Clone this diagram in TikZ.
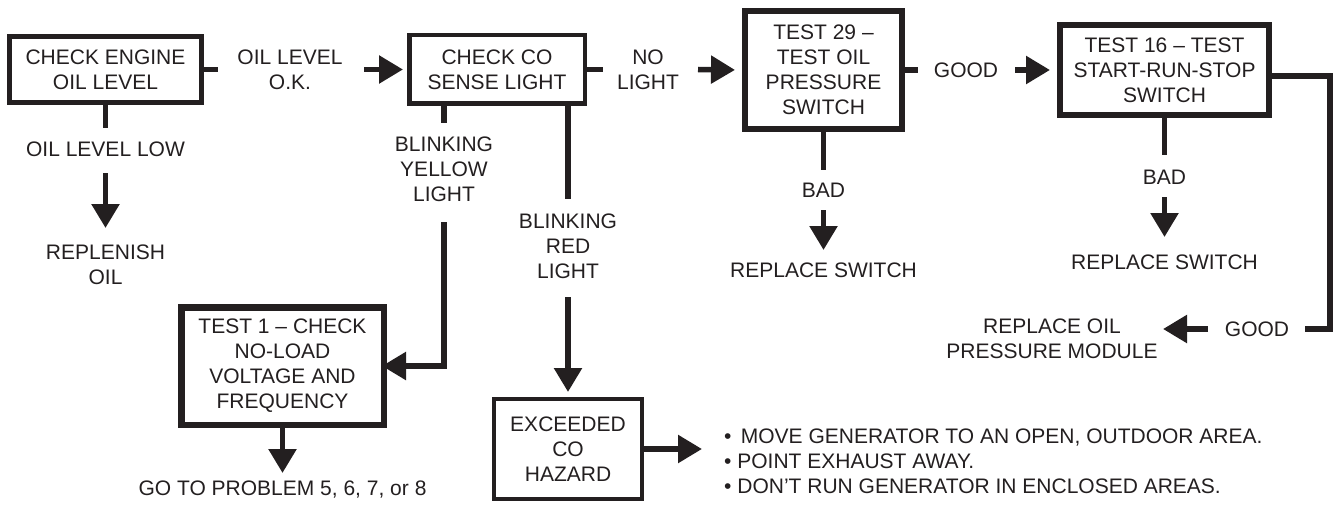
\documentclass[tikz,border=0pt]{standalone}
\usepackage{fontspec}
\setmainfont{Liberation Sans}
\usetikzlibrary{arrows.meta}
\definecolor{ink}{HTML}{231F20}
\begin{document}
\begin{tikzpicture}[x=1pt,y=-1pt,
  every node/.style={font=\fontsize{21pt}{25pt}\selectfont, text=ink, inner sep=0pt, align=center},
  box/.style={draw=ink, line width=#1, fill=white},
  conn/.style={draw=ink, line width=5.5pt, line join=miter},
  arr/.style={conn, -{Triangle[length=24pt,width=27pt]}}]
\useasboundingbox (0,0) rectangle (1340,508);

% boxes
\node[box=4.7pt, minimum width=192.3pt, minimum height=66.3pt] (b1) at (105.5,69.5) {CHECK ENGINE\\OIL LEVEL};
\node[box=4.5pt, minimum width=175.5pt, minimum height=68.5pt] (b2) at (497,69.5) {CHECK CO\\SENSE LIGHT};
\node[box=6pt, minimum width=157pt, minimum height=118pt] (b3) at (823.5,70) {TEST 29 –\\TEST OIL\\PRESSURE\\SWITCH};
\node[box=6pt, minimum width=209pt, minimum height=90pt] (b4) at (1164.5,70) {TEST 16 – TEST\\START-RUN-STOP\\SWITCH};
\node[box=6.5pt, minimum width=202.5pt, minimum height=117.5pt] (b5) at (282.5,366) {TEST 1 – CHECK\\NO-LOAD\\VOLTAGE AND\\FREQUENCY};
\node[box=4.4pt, minimum width=147.6pt, minimum height=99.6pt] (b6) at (568,449) {EXCEEDED\\CO\\HAZARD};

% labels
\node (okl) at (290,69.5) {OIL LEVEL\\O.K.};
\node (lowl) at (105.5,149) {OIL LEVEL LOW};
\node (repl) at (105.5,264.5) {REPLENISH\\OIL};
\node (nol) at (648,69.5) {NO\\LIGHT};
\node (yell) at (444,169) {BLINKING\\YELLOW\\LIGHT};
\node (redl) at (568,246) {BLINKING\\RED\\LIGHT};
\node (bad1) at (823.5,190) {BAD};
\node (rs1) at (823.5,270) {REPLACE SWITCH};
\node (good1) at (966,70) {GOOD};
\node (bad2) at (1164.5,177) {BAD};
\node (rs2) at (1164.5,262) {REPLACE SWITCH};
\node (good2) at (1257,329) {GOOD};
\node (rom) at (1052,339) {REPLACE OIL\\PRESSURE MODULE};
\node (gop) at (282.5,490) {GO TO PROBLEM 5, 6, 7, or 8};
\node[anchor=west, align=left] (tips) at (724,461)
  {•\,\ MOVE GENERATOR TO AN OPEN, OUTDOOR AREA.\\• POINT EXHAUST AWAY.\\• DON'T RUN GENERATOR IN ENCLOSED AREAS.};

% connector end points
\coordinate (s1) at (218,69.5);
\coordinate (a1) at (364,69.5);
\coordinate (s2) at (105.5,128);
\coordinate (a2) at (105.5,173);
\coordinate (t2) at (105.5,228);
\coordinate (s3) at (603,69.5);
\coordinate (a3) at (698,69.5);
\coordinate (y1) at (444,123);
\coordinate (y2) at (444,222);
\coordinate (r1) at (568,199);
\coordinate (r2) at (568,297);
\coordinate (s4) at (918,70);
\coordinate (a4) at (1015,70);
\coordinate (s5) at (823.5,170);
\coordinate (a5) at (823.5,210);
\coordinate (t5) at (823.5,250);
\coordinate (s6) at (1164.5,155);
\coordinate (a6) at (1164.5,197);
\coordinate (t6) at (1164.5,237);
\coordinate (c1) at (1330,329);
\coordinate (s7) at (1305,329);
\coordinate (a7) at (1208,329);
\coordinate (t7) at (1163,329);
\coordinate (t8) at (282.5,473);
\coordinate (t9) at (702,449);

% connectors
\draw[conn] (b1.east) -- (s1);
\draw[arr, shorten >=4pt] (a1) -- (b2.west);
\draw[conn] (b1.south) -- (s2);
\draw[arr] (a2) -- (t2);
\draw[conn] (b2.east) -- (s3);
\draw[arr, shorten >=7pt] (a3) -- (b3.west);
\draw[conn] (b2.south -| y1) -- (y1);
\draw[arr, shorten >=-5pt] (y2) |- (b5.east);
\draw[conn] (b2.south -| r1) -- (r1);
\draw[arr, shorten >=5pt] (r2) -- (b6.north);
\draw[conn] (b3.east) -- (s4);
\draw[arr, shorten >=7pt] (a4) -- (b4.west);
\draw[conn] (b3.south) -- (s5);
\draw[arr] (a5) -- (t5);
\draw[conn] (b4.south) -- (s6);
\draw[arr] (a6) -- (t6);
\draw[conn] ([yshift=-6pt]b4.east) -| (c1) -- (s7);
\draw[arr] (a7) -- (t7);
\draw[arr] (b5.south) -- (t8);
\draw[arr] (b6.east) -- (t9);
\end{tikzpicture}
\end{document}
